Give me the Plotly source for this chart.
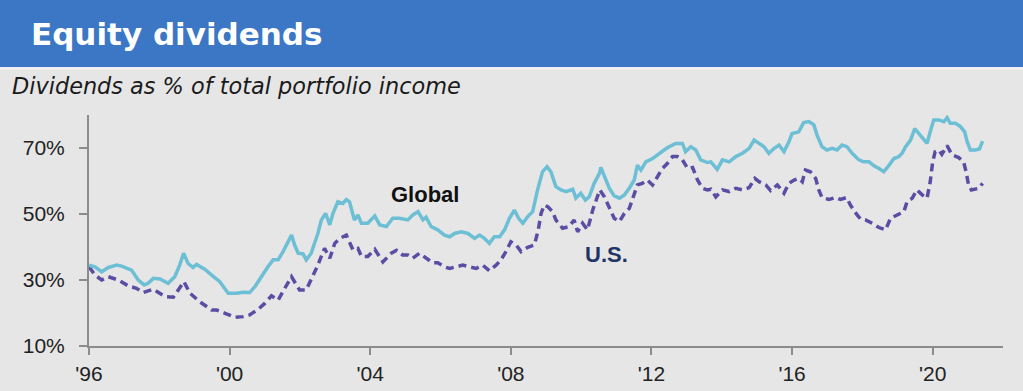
import plotly.graph_objects as go

# ---- data ----
global_t = [1996.0, 1996.17, 1996.36, 1996.55, 1996.79, 1996.93, 1997.21, 1997.4, 1997.57, 1997.68,
            1997.83, 1998.02, 1998.25, 1998.44, 1998.58, 1998.69, 1998.82, 1998.96, 1999.06, 1999.3,
            1999.49, 1999.72, 1999.96, 2000.2, 2000.38, 2000.57, 2000.72, 2000.95, 2001.09, 2001.24,
            2001.38, 2001.52, 2001.66, 2001.76, 2001.85, 2001.95, 2002.09, 2002.18, 2002.32, 2002.51,
            2002.61, 2002.73, 2002.85, 2002.94, 2003.08, 2003.22, 2003.32, 2003.41, 2003.55, 2003.65,
            2003.75, 2003.93, 2004.13, 2004.27, 2004.46, 2004.64, 2004.83, 2005.07, 2005.21, 2005.36,
            2005.5, 2005.59, 2005.73, 2005.92, 2006.11, 2006.26, 2006.4, 2006.59, 2006.78, 2006.97,
            2007.11, 2007.25, 2007.39, 2007.53, 2007.68, 2007.82, 2007.96, 2008.1, 2008.22, 2008.34,
            2008.48, 2008.62, 2008.76, 2008.9, 2009.03, 2009.14, 2009.28, 2009.43, 2009.57, 2009.76,
            2009.85, 2009.99, 2010.12, 2010.23, 2010.37, 2010.52, 2010.56, 2010.66, 2010.8, 2010.94,
            2011.09, 2011.23, 2011.37, 2011.51, 2011.6, 2011.7, 2011.84, 2012.03, 2012.22, 2012.36,
            2012.5, 2012.69, 2012.88, 2012.97, 2013.12, 2013.26, 2013.4, 2013.59, 2013.69, 2013.87,
            2014.02, 2014.21, 2014.4, 2014.59, 2014.78, 2014.92, 2015.06, 2015.2, 2015.34, 2015.49,
            2015.63, 2015.77, 2015.91, 2016.0, 2016.19, 2016.33, 2016.48, 2016.62, 2016.71, 2016.85,
            2016.99, 2017.14, 2017.28, 2017.42, 2017.56, 2017.71, 2017.9, 2018.04, 2018.19, 2018.33,
            2018.47, 2018.61, 2018.76, 2018.9, 2019.04, 2019.13, 2019.23, 2019.37, 2019.49, 2019.6,
            2019.74, 2019.84, 2019.93, 2020.03, 2020.17, 2020.32, 2020.41, 2020.5, 2020.65, 2020.79,
            2020.91, 2020.98, 2021.07, 2021.21, 2021.33, 2021.42]
global_v = [34.5, 34.0, 32.5, 33.8, 34.5, 34.2, 33.0, 30.0, 28.5, 29.0,
            30.5, 30.3, 29.0, 31.0, 34.5, 38.1, 35.0, 33.8, 34.7, 33.2,
            31.5, 29.5, 26.0, 26.0, 26.3, 26.2, 28.0, 32.0, 34.0, 36.1,
            36.1, 38.6, 41.6, 43.6, 40.6, 38.1, 37.9, 36.1, 38.1, 44.1,
            48.2, 50.2, 46.7, 50.2, 53.7, 53.2, 54.4, 53.7, 48.2, 49.7,
            47.2, 47.2, 49.4, 46.7, 46.2, 48.7, 48.7, 48.2, 49.7, 50.7,
            48.2, 49.0, 46.2, 45.2, 43.6, 43.1, 44.1, 44.6, 44.1, 42.6,
            43.6, 42.6, 41.1, 43.1, 43.1, 45.2, 48.7, 51.2, 48.7, 47.2,
            49.2, 50.7, 57.3, 62.8, 64.3, 62.8, 58.3, 57.3, 56.8, 57.5,
            54.8, 56.3, 54.2, 55.2, 59.3, 62.3, 64.1, 61.3, 57.8, 55.5,
            54.8, 55.8, 57.8, 60.3, 64.8, 63.3, 65.8, 66.8, 68.4, 69.4,
            70.4, 71.4, 71.4, 68.9, 70.4, 69.4, 66.4, 65.6, 65.8, 63.5,
            66.4, 65.8, 67.4, 68.4, 69.9, 72.4, 71.4, 70.4, 68.4, 69.9,
            70.9, 68.9, 71.9, 74.4, 74.9, 77.7, 78.0, 77.0, 73.9, 70.4,
            69.4, 69.9, 69.4, 70.9, 70.4, 68.4, 66.4, 65.8, 65.8, 64.6,
            63.8, 62.8, 64.8, 66.8, 67.4, 68.4, 70.4, 72.4, 75.9, 74.4,
            72.4, 71.4, 74.9, 78.5, 78.5, 78.0, 79.2, 77.5, 77.5, 76.5,
            74.9, 71.9, 69.4, 69.4, 69.7, 72.1]

us_t = [1996.0, 1996.17, 1996.36, 1996.55, 1996.83, 1997.12, 1997.35, 1997.54, 1997.83, 1998.02,
        1998.16, 1998.4, 1998.58, 1998.7, 1998.87, 1999.15, 1999.49, 1999.63, 1999.87, 2000.15,
        2000.38, 2000.57, 2000.81, 2001.0, 2001.19, 2001.38, 2001.57, 2001.76, 2001.9, 2001.99,
        2002.18, 2002.32, 2002.51, 2002.7, 2002.85, 2002.99, 2003.13, 2003.32, 2003.51, 2003.65,
        2003.75, 2003.93, 2004.13, 2004.36, 2004.6, 2004.75, 2004.92, 2005.07, 2005.21, 2005.4,
        2005.59, 2005.78, 2005.92, 2006.11, 2006.26, 2006.45, 2006.63, 2006.82, 2007.01, 2007.2,
        2007.39, 2007.58, 2007.72, 2007.86, 2008.0, 2008.15, 2008.29, 2008.48, 2008.67, 2008.78,
        2008.86, 2008.95, 2009.05, 2009.19, 2009.28, 2009.47, 2009.66, 2009.8, 2009.9, 2010.04,
        2010.18, 2010.33, 2010.47, 2010.53, 2010.66, 2010.8, 2010.94, 2011.09, 2011.23, 2011.37,
        2011.51, 2011.6, 2011.74, 2011.88, 2012.03, 2012.17, 2012.31, 2012.45, 2012.6, 2012.74,
        2012.88, 2013.03, 2013.17, 2013.31, 2013.45, 2013.59, 2013.69, 2013.83, 2014.02, 2014.21,
        2014.4, 2014.59, 2014.78, 2014.94, 2015.06, 2015.25, 2015.39, 2015.58, 2015.77, 2015.91,
        2016.06, 2016.19, 2016.29, 2016.38, 2016.52, 2016.67, 2016.76, 2016.85, 2017.05, 2017.24,
        2017.38, 2017.55, 2017.66, 2017.85, 2017.95, 2018.09, 2018.28, 2018.47, 2018.66, 2018.8,
        2018.99, 2019.18, 2019.27, 2019.42, 2019.55, 2019.7, 2019.84, 2019.93, 2020.0, 2020.07,
        2020.17, 2020.26, 2020.41, 2020.55, 2020.74, 2020.88, 2020.95, 2021.02, 2021.1, 2021.21,
        2021.31, 2021.42]
us_v = [34.0, 31.5, 30.0, 31.0, 30.0, 28.2, 27.5, 26.2, 27.2, 26.0,
        25.0, 24.8, 27.5, 29.5, 26.0, 23.4, 20.9, 20.9, 19.9, 18.7,
        18.9, 19.4, 21.1, 22.9, 25.2, 23.9, 27.5, 31.0, 28.5, 27.0,
        27.0, 30.0, 34.5, 39.6, 36.6, 41.1, 42.6, 43.6, 39.1, 39.6,
        37.1, 37.1, 39.3, 35.5, 38.1, 39.0, 37.6, 37.6, 36.6, 38.1,
        36.6, 35.2, 35.2, 34.0, 33.5, 34.0, 34.5, 34.0, 33.5, 34.5,
        32.8, 34.5, 36.1, 38.6, 41.6, 40.6, 38.6, 39.9, 40.6, 45.2,
        50.2, 52.7, 52.2, 50.7, 48.2, 45.7, 46.2, 48.2, 44.6, 47.2,
        45.2, 51.2, 55.2, 57.3, 55.2, 52.2, 48.7, 47.7, 50.2, 51.7,
        56.3, 58.8, 59.3, 60.3, 58.8, 61.3, 63.8, 65.3, 67.4, 67.4,
        66.4, 63.8, 64.1, 60.3, 57.8, 57.3, 57.5, 55.2, 57.3, 56.8,
        57.8, 57.3, 58.0, 60.8, 59.8, 58.8, 57.1, 58.8, 56.3, 59.3,
        60.3, 60.8, 59.8, 63.3, 62.8, 60.8, 57.3, 55.0, 54.4, 55.0,
        54.4, 55.0, 52.7, 49.7, 48.5, 48.2, 47.2, 45.9, 45.2, 48.7,
        49.7, 50.7, 53.7, 54.8, 57.3, 55.8, 54.8, 59.8, 65.8, 68.9,
        69.4, 68.1, 70.7, 67.9, 67.1, 65.8, 62.8, 58.8, 57.3, 57.6,
        57.8, 59.3]

x_tickvals = [1996, 2000, 2004, 2008, 2012, 2016, 2020]
x_ticktext = ["'96", "'00", "'04", "'08", "'12", "'16", "'20"]
y_tickvals = [10, 30, 50, 70]
y_ticktext = ["10%", "30%", "50%", "70%"]

title_text = "Equity dividends"
subtitle_text = "Dividends as % of total portfolio income"

BG = "#E6E6E6"
BAR = "#3B77C4"
GLOBAL_COLOR = "#6CBFD5"
US_COLOR = "#5B4DA3"
AXIS = "#8C8C8C"
FONT = "Liberation Sans, Arial, sans-serif"

fig = go.Figure()
fig.add_trace(go.Scatter(x=us_t, y=us_v, mode="lines", name="U.S.",
                         line=dict(color=US_COLOR, width=3.5, dash="8px,5px")))
fig.add_trace(go.Scatter(x=global_t, y=global_v, mode="lines", name="Global",
                         line=dict(color=GLOBAL_COLOR, width=3.5)))

fig.update_layout(
    width=1023, height=391,
    margin=dict(l=89, r=20, t=115, b=45, pad=0, autoexpand=False),
    paper_bgcolor=BG, plot_bgcolor=BG,
    showlegend=False,
    font=dict(family=FONT, color="#222222"),
    xaxis=dict(range=[1996, 2022], tickvals=x_tickvals, ticktext=x_ticktext, automargin=False,
               showgrid=False, zeroline=False, showline=True, linecolor=AXIS, linewidth=2,
               ticks="outside", ticklen=7, tickwidth=1.5, tickcolor=AXIS,
               tickfont=dict(size=21, family=FONT, color="#222222"), ticklabelstandoff=1),
    yaxis=dict(range=[10, 80], tickvals=y_tickvals, ticktext=y_ticktext, automargin=False,
               showgrid=False, zeroline=False, showline=True, linecolor=AXIS, linewidth=2,
               ticks="outside", ticklen=8, tickwidth=1.5, tickcolor=AXIS,
               tickfont=dict(size=21, family=FONT, color="#222222"), ticklabelstandoff=10),
    shapes=[
        dict(type="rect", xref="paper", yref="paper", x0=-0.2, x1=1.1, y0=1.2078, y1=1.7,
             fillcolor=BAR, line=dict(width=0), layer="below"),
        dict(type="line", xref="paper", yref="paper", x0=-0.2, x1=1.1, y0=1.2013, y1=1.2013,
             line=dict(color="#F3F3F3", width=2), layer="below"),
    ],
    annotations=[
        dict(text="<b>" + title_text + "</b>", xref="paper", yref="paper",
             x=-0.066, y=1.3506, xanchor="left", yanchor="middle", showarrow=False,
             font=dict(family="DejaVu Sans", size=31, color="white")),
        dict(text="<i>" + subtitle_text + "</i>", xref="paper", yref="paper",
             x=-0.0862, y=1.1255, xanchor="left", yanchor="middle", showarrow=False,
             font=dict(family="DejaVu Sans", size=22.4, color="#1A1A1A")),
        dict(text="<b>Global</b>", x=2005.57, y=55.8, xref="x", yref="y", showarrow=False,
             font=dict(family=FONT, size=22, color="#111111")),
        dict(text="<b>U.S.</b>", x=2010.72, y=37.6, xref="x", yref="y", showarrow=False,
             font=dict(family=FONT, size=22, color="#1F3566")),
    ],
)

fig.write_html(
    "out.html",
    config={"displayModeBar": False},
    post_script="document.body.style.margin='0';document.body.style.padding='0';"
                "document.body.style.background='" + BG + "';document.body.style.overflow='hidden';",
)
